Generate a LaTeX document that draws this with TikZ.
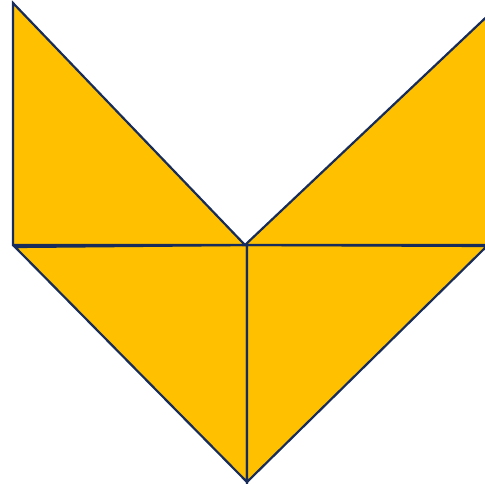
\documentclass[tikz,border=0pt]{standalone}
\definecolor{gold}{HTML}{FFC000}
\definecolor{navy}{HTML}{172C5A}
\begin{document}
\begin{tikzpicture}[x=1pt,y=-1pt,
  piece/.style={fill=gold,draw=navy,line width=2.2pt,line join=miter}]
\useasboundingbox (0,0) rectangle (485,483);
\clip (0,0) rectangle (485,483);
% coordinates
\coordinate (tl) at (13,3);
\coordinate (ml) at (13,245);
\coordinate (c) at (245,245);
\coordinate (cv) at (247,245);
\coordinate (bl) at (15,247);
\coordinate (bot) at (247,482);
\coordinate (trtop) at (497,7);
\coordinate (trr) at (497,245);
\coordinate (mr) at (487,246);
% bottom pieces
\filldraw[piece] (bl) -- (cv) -- (bot) -- cycle;
\filldraw[piece] (cv) -- (mr) -- (bot) -- cycle;
% top pieces
\filldraw[piece] (tl) -- (ml) -- (c) -- cycle;
\filldraw[piece] (c) -- (trtop) -- (trr) -- cycle;
\end{tikzpicture}
\end{document}
